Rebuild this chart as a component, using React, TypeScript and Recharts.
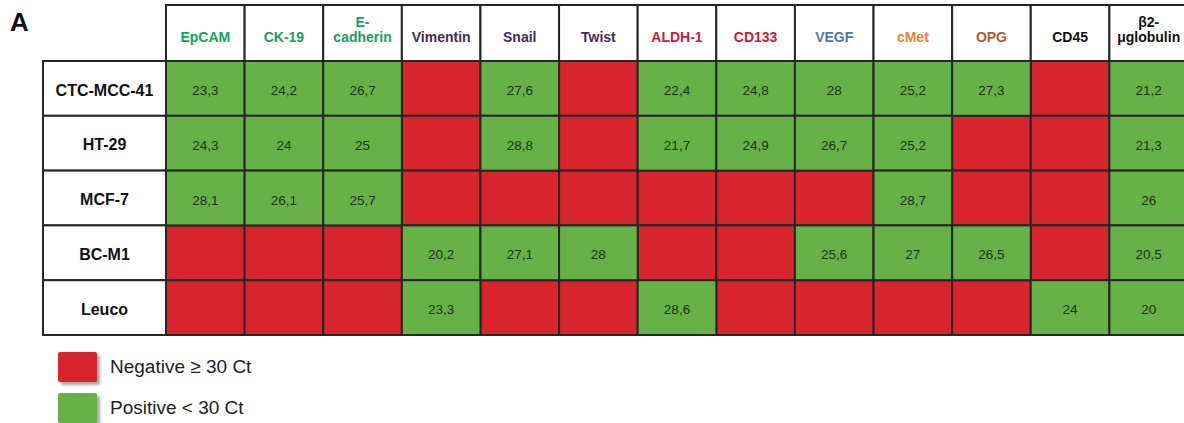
import React from 'react';
import { ScatterChart, Scatter, XAxis, YAxis, Legend } from 'recharts';

// ---------- data ----------
const markers = ['EpCAM', 'CK-19', 'E-\ncadherin', 'Vimentin', 'Snail', 'Twist', 'ALDH-1', 'CD133', 'VEGF', 'cMet', 'OPG', 'CD45', 'β2-\nμglobulin'];
const markerColors = ['#17a05a', '#17a05a', '#17a05a', '#4a2856', '#4a2856', '#4a2856', '#c8203a', '#c8203a', '#4f78b0', '#e8803c', '#b65a3a', '#111111', '#111111'];
const cellLines = ['CTC-MCC-41', 'HT-29', 'MCF-7', 'BC-M1', 'Leuco'];

// Ct values; null = negative (>= 30 Ct)
const ctCTCMCC41 = [23.3, 24.2, 26.7, null, 27.6, null, 22.4, 24.8, 28, 25.2, 27.3, null, 21.2];
const ctHT29 = [24.3, 24, 25, null, 28.8, null, 21.7, 24.9, 26.7, 25.2, null, null, 21.3];
const ctMCF7 = [28.1, 26.1, 25.7, null, null, null, null, null, null, 28.7, null, null, 26];
const ctBCM1 = [null, null, null, 20.2, 27.1, 28, null, null, 25.6, 27, 26.5, null, 20.5];
const ctLeuco = [null, null, null, 23.3, null, null, 28.6, null, null, null, null, 24, 20];

const legendLabels = ['Negative ≥ 30 Ct', 'Positive < 30 Ct'];

const ctRows = [ctCTCMCC41, ctHT29, ctMCF7, ctBCM1, ctLeuco];

type Cell = { x: number; y: number; value: number | null };
const allCells: Cell[] = [];
ctRows.forEach((row, r) => row.forEach((v, c) => allCells.push({ x: c, y: r, value: v })));
const negativeCells = allCells.filter((d) => d.value == null);
const positiveCells = allCells.filter((d) => d.value != null);

// ---------- layout ----------
const FONT = '"Liberation Sans", Arial, Helvetica, sans-serif';
const CHART_W = 1200;
const CHART_H = 423;
const MARGIN = { top: 5, right: 12, bottom: 88, left: 43 };
const HEADER_H = 56;
const YAXIS_W = 123;
const PLOT_W = CHART_W - MARGIN.left - MARGIN.right - YAXIS_W;
const PLOT_H = CHART_H - MARGIN.top - MARGIN.bottom - HEADER_H;
const CELL_W = PLOT_W / markers.length;
const CELL_H = PLOT_H / cellLines.length;
const RED = '#d8252d';
const GREEN = '#67b246';
const BORDER = '#262626';

const CellShape = (props: any) => {
  const { cx, cy, payload, fill } = props;
  const v = payload.value;
  return (
    <g>
      <rect x={cx - CELL_W / 2} y={cy - CELL_H / 2} width={CELL_W} height={CELL_H} fill={fill} stroke={BORDER} strokeWidth={2} />
      {v != null && (
        <text x={cx} y={cy + 3} textAnchor="middle" dominantBaseline="middle" fontFamily={FONT} fontSize={13.5} fill="#1f2f1d">
          {String(v).replace('.', ',')}
        </text>
      )}
    </g>
  );
};

const HeaderTick = (props: any) => {
  const { x, y, payload } = props;
  const i = payload.value as number;
  const label = markers[i];
  if (label == null) return null;
  const lines = label.split('\n');
  const base = y - 19;
  return (
    <g>
      <rect x={x - CELL_W / 2} y={y - HEADER_H} width={CELL_W} height={HEADER_H} fill="#fff" stroke={BORDER} strokeWidth={2} />
      <text textAnchor="middle" fontFamily={FONT} fontSize={14} fontWeight="bold" fill={markerColors[i]}>
        {lines.map((ln, k) => (
          <tspan key={k} x={x} y={base - (lines.length - 1 - k) * 15}>{ln}</tspan>
        ))}
      </text>
    </g>
  );
};

const RowTick = (props: any) => {
  const { x, y, payload } = props;
  const i = payload.value as number;
  const label = cellLines[i];
  if (label == null) return null;
  return (
    <g>
      <rect x={x - YAXIS_W} y={y - CELL_H / 2} width={YAXIS_W} height={CELL_H} fill="#fff" stroke={BORDER} strokeWidth={2} />
      <text x={x - YAXIS_W / 2} y={y + 3} textAnchor="middle" dominantBaseline="middle" fontFamily={FONT} fontSize={16} fontWeight="bold" fill="#111">
        {label}
      </text>
    </g>
  );
};

const LegendContent = (props: any) => {
  const payload = props.payload || [];
  return (
    <div style={{ fontFamily: FONT }}>
      {payload.map((p: any, k: number) => (
        <div key={k} style={{ display: 'flex', alignItems: 'center', height: 30, marginBottom: 11 }}>
          <div style={{ width: 39, height: 30, background: p.color, borderRadius: 2, boxShadow: '3px 3px 3px rgba(0,0,0,0.35)' }} />
          <span style={{ marginLeft: 13, fontSize: 19, color: '#222' }}>{p.value}</span>
        </div>
      ))}
    </div>
  );
};

export default function App() {
  return (
    <div style={{ position: 'absolute', left: 0, top: 0, width: 1184, height: 423, overflow: 'hidden', background: '#fff' }}>
      <div style={{ position: 'absolute', left: 10, top: 7, fontFamily: FONT, fontWeight: 'bold', fontSize: 26, color: '#111' }}>A</div>
      <ScatterChart width={CHART_W} height={CHART_H} margin={MARGIN}>
        <XAxis
          type="number"
          dataKey="x"
          orientation="top"
          domain={[-0.5, markers.length - 0.5]}
          ticks={markers.map((_, i) => i)}
          interval={0}
          height={HEADER_H}
          tickSize={0}
          tickMargin={0}
          axisLine={false}
          tickLine={false}
          tick={<HeaderTick />}
        />
        <YAxis
          type="number"
          dataKey="y"
          reversed
          domain={[-0.5, cellLines.length - 0.5]}
          ticks={cellLines.map((_, i) => i)}
          interval={0}
          width={YAXIS_W}
          tickSize={0}
          tickMargin={0}
          axisLine={false}
          tickLine={false}
          tick={<RowTick />}
        />
        <Legend
          layout="vertical"
          align="center"
          verticalAlign="middle"
          content={<LegendContent />}
          wrapperStyle={{ position: 'absolute', left: 58, top: 352, width: 300, height: 80 }}
        />
        <Scatter name={legendLabels[0]} data={negativeCells} fill={RED} shape={CellShape} isAnimationActive={false} legendType="square" />
        <Scatter name={legendLabels[1]} data={positiveCells} fill={GREEN} shape={CellShape} isAnimationActive={false} legendType="square" />
      </ScatterChart>
    </div>
  );
}
